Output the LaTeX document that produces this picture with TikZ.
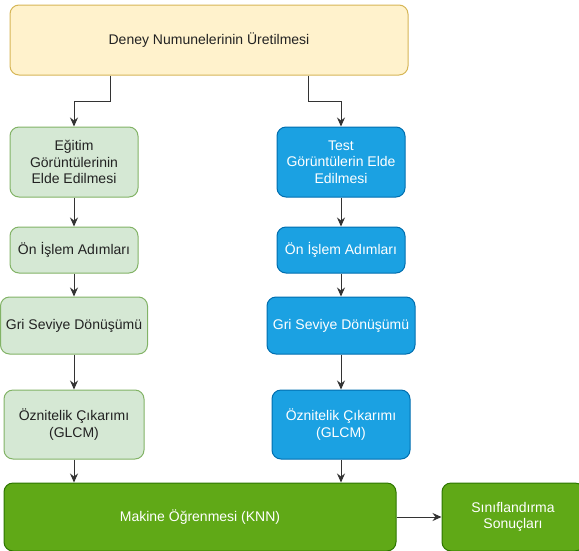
\documentclass[tikz,border=0pt]{standalone}
\usepackage{fontspec}
\setmainfont{Liberation Sans}
\usetikzlibrary{arrows.meta,calc}
\definecolor{yelfill}{HTML}{FFF2CC}
\definecolor{yeldraw}{HTML}{D6B656}
\definecolor{lgfill}{HTML}{D5E8D4}
\definecolor{lgdraw}{HTML}{82B366}
\definecolor{bfill}{HTML}{1BA1E2}
\definecolor{bdraw}{HTML}{006EAF}
\definecolor{dgfill}{HTML}{60A917}
\definecolor{dgdraw}{HTML}{2D7600}
\definecolor{txt}{HTML}{222222}
\definecolor{edge}{HTML}{333333}
\tikzset{
  box/.style={rounded corners=9pt, line width=1pt, align=center, inner sep=0pt,
    font=\fontsize{14}{16.3}\selectfont},
  yelbox/.style={box, fill=yelfill, draw=yeldraw, text=txt},
  lgbox/.style={box, fill=lgfill, draw=lgdraw, text=txt},
  bbox/.style={box, fill=bfill, draw=bdraw, text=white},
  dgbox/.style={box, fill=dgfill, draw=dgdraw, text=white},
  arr/.style={draw=edge, line width=1pt, -{Stealth[length=9pt,width=8pt,inset=3pt]}}
}
\begin{document}
\begin{tikzpicture}[x=1pt,y=-1pt]
\useasboundingbox (0,0) rectangle (579,550);
\node[yelbox, minimum width=398pt, minimum height=70pt] (top) at (209,40) {Deney Numunelerinin Üretilmesi};
\node[lgbox, minimum width=128pt, minimum height=70pt] (g1) at (74,162) {Eğitim\\Görüntülerinin\\Elde Edilmesi};
\node[bbox, minimum width=128pt, minimum height=70pt] (b1) at (341,162) {Test\\Görüntülerin Elde\\Edilmesi};
\node[lgbox, minimum width=128pt, minimum height=46pt] (g2) at (74,250) {Ön İşlem Adımları};
\node[bbox, minimum width=128pt, minimum height=46pt] (b2) at (341,250) {Ön İşlem Adımları};
\node[lgbox, minimum width=147pt, minimum height=57pt] (g3) at (74,325.5) {Gri Seviye Dönüşümü};
\node[bbox, minimum width=148pt, minimum height=57pt] (b3) at (341,325.5) {Gri Seviye Dönüşümü};
\node[lgbox, minimum width=140pt, minimum height=69pt] (g4) at (74,424.5) {Öznitelik Çıkarımı\\(GLCM)};
\node[bbox, minimum width=138pt, minimum height=69pt] (b4) at (341,424.5) {Öznitelik Çıkarımı\\(GLCM)};
\node[dgbox, minimum width=392pt, minimum height=68pt] (knn) at (200,517) {Makine Öğrenmesi (KNN)};
\node[dgbox, minimum width=142pt, minimum height=68pt] (res) at (513,517) {Sınıflandırma\\Sonuçları};
\draw[arr] ($(top.south)+(-99,0)$) -- ++(0,26) -| (g1.north);
\draw[arr] ($(top.south)+(99,0)$) -- ++(0,26) -| (b1.north);
\draw[arr] (g1) -- (g2);
\draw[arr] (g2) -- (g3);
\draw[arr] (g3) -- (g4);
\draw[arr] (g4.south) -- (g4.south |- knn.north);
\draw[arr] (b1) -- (b2);
\draw[arr] (b2) -- (b3);
\draw[arr] (b3) -- (b4);
\draw[arr] (b4.south) -- (b4.south |- knn.north);
\draw[arr] (knn) -- (res);
\end{tikzpicture}
\end{document}
